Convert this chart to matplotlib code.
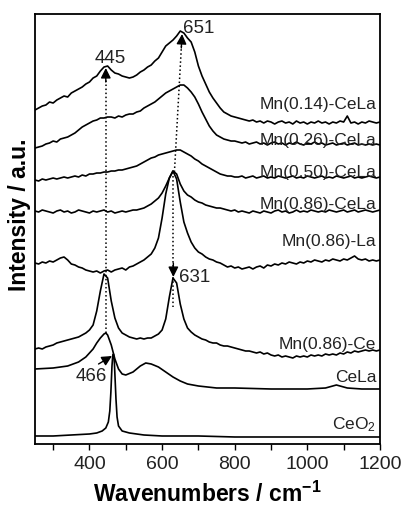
import numpy as np
import matplotlib
matplotlib.use("Agg")
import matplotlib.pyplot as plt
from matplotlib.ticker import MultipleLocator

plt.rcParams['font.family'] = ['Liberation Sans', 'DejaVu Sans']
plt.rcParams['mathtext.default'] = 'regular'

# --- data (intensity in arbitrary units, stacked) ---
wn = np.arange(250, 1201, 10)

mn014_cela = [334, 336, 338, 339, 342, 341, 344, 346, 348, 347, 351, 353, 355, 357, 360, 362,
              366, 368, 373, 377, 378, 374, 371, 370, 368, 367, 366, 367, 369, 372, 374, 377,
              379, 383, 386, 392, 398, 401, 404, 408, 413, 411, 406, 402, 392, 378, 368, 360,
              352, 346, 341, 336, 332, 330, 328, 327, 326, 325, 324, 323, 324, 322, 323, 321,
              323, 322, 320, 322, 323, 321, 322, 320, 323, 321, 322, 320, 322, 321, 323, 321,
              322, 320, 322, 321, 323, 322, 328, 321, 322, 320, 322, 321, 323, 322, 321, 322]
mn026_cela = [296, 297, 298, 300, 301, 303, 302, 305, 306, 307, 309, 311, 314, 317, 319, 321,
              323, 324, 326, 326, 327, 327, 326, 328, 327, 329, 330, 330, 332, 333, 336, 338,
              340, 342, 345, 348, 351, 353, 355, 357, 359, 359, 356, 352, 347, 340, 332, 325,
              318, 313, 309, 307, 305, 304, 303, 303, 302, 301, 302, 300, 301, 302, 300, 301,
              299, 301, 302, 300, 301, 299, 301, 300, 302, 300, 299, 301, 300, 302, 300, 301,
              299, 300, 301, 299, 300, 301, 299, 300, 301, 299, 300, 299, 300, 299, 300, 299]
mn050_cela = [264, 263, 265, 264, 265, 266, 265, 266, 267, 266, 267, 268, 267, 269, 268, 270,
              270, 271, 271, 272, 272, 273, 273, 274, 274, 275, 276, 277, 278, 280, 282, 284,
              286, 287, 289, 290, 291, 292, 293, 294, 294, 292, 290, 288, 285, 283, 280, 278,
              276, 274, 272, 270, 269, 268, 268, 267, 267, 268, 266, 267, 268, 266, 267, 268,
              266, 267, 266, 268, 267, 266, 267, 268, 266, 267, 266, 268, 267, 266, 267, 268,
              266, 267, 266, 268, 267, 266, 267, 268, 266, 267, 266, 267, 268, 267, 266, 267]
mn086_cela = [233, 232, 234, 233, 232, 231, 233, 234, 232, 233, 231, 232, 234, 233, 232, 231,
              233, 232, 233, 234, 232, 233, 231, 232, 233, 232, 233, 234, 234, 235, 236, 238,
              240, 243, 246, 251, 258, 266, 273, 270, 260, 253, 249, 247, 244, 242, 241, 239,
              238, 237, 236, 236, 235, 234, 233, 234, 232, 233, 232, 231, 233, 232, 231, 233,
              232, 231, 233, 234, 232, 233, 231, 232, 234, 232, 233, 232, 234, 233, 232, 233,
              232, 234, 233, 232, 233, 234, 232, 233, 234, 232, 233, 234, 233, 232, 233, 234]
mn086_la = [181, 180, 182, 181, 183, 182, 184, 186, 187, 184, 180, 179, 177, 176, 174, 173,
            172, 173, 171, 173, 174, 172, 174, 175, 176, 174, 177, 178, 180, 182, 184, 187,
            190, 196, 206, 226, 250, 266, 273, 265, 242, 222, 211, 202, 196, 192, 190, 187,
            185, 184, 182, 181, 179, 177, 178, 176, 177, 175, 176, 177, 175, 177, 178, 176,
            179, 178, 180, 179, 181, 180, 182, 181, 180, 182, 181, 183, 182, 184, 183, 182,
            184, 183, 185, 184, 183, 185, 184, 186, 188, 185, 184, 185, 183, 184, 183, 184]
mn086_ce = [95, 96, 95, 97, 98, 99, 101, 102, 103, 104, 105, 106, 107, 109, 111, 114,
            119, 133, 153, 170, 166, 143, 126, 116, 111, 109, 107, 106, 105, 106, 105, 106,
            106, 108, 110, 114, 125, 147, 166, 161, 140, 125, 116, 112, 109, 107, 105, 104,
            102, 101, 101, 99, 98, 98, 97, 96, 95, 94, 93, 93, 92, 91, 92, 90,
            91, 89, 88, 89, 87, 88, 87, 86, 88, 87, 88, 87, 89, 88, 89, 88,
            90, 89, 90, 89, 91, 90, 92, 91, 93, 92, 93, 94, 93, 94, 93, 94]

wn_cela = [250, 300, 340, 370, 390, 410, 420, 430, 440, 445, 450, 460, 470, 480, 490, 500,
           520, 540, 555, 570, 590, 610, 630, 650, 670, 700, 750, 800, 900, 1000, 1050, 1070,
           1080, 1090, 1110, 1150, 1200]
cela = [75, 76, 78, 82, 87, 95, 101, 106, 110, 111, 109, 99, 85, 75, 70, 69,
        72, 78, 81, 80, 77, 72, 67, 63, 60, 58, 56, 56, 55, 55, 56, 58,
        59, 58, 56, 55, 55]

wn_ceo2 = [250, 300, 350, 400, 420, 435, 445, 452, 456, 459, 462, 464, 466, 468, 470, 473,
           476, 480, 490, 510, 550, 600, 700, 800, 1000, 1200]
ceo2 = [8, 8, 9, 10, 11, 13, 16, 22, 33, 52, 78, 88, 90, 86, 70, 45,
        27, 18, 13, 11, 9, 8, 8, 7, 7, 7]

labels = ['Mn(0.14)-CeLa', 'Mn(0.26)-CeLa', 'Mn(0.50)-CeLa', 'Mn(0.86)-CeLa',
          'Mn(0.86)-La', 'Mn(0.86)-Ce', 'CeLa', 'CeO$_2$']
label_y = [340, 304, 272, 240, 203, 99, 66, 19]

# --- figure ---
fig = plt.figure(figsize=(4.05, 5.08), dpi=100)
ax = fig.add_axes([0.0864, 0.126, 0.8518, 0.8464])

for y in [mn014_cela, mn026_cela, mn050_cela, mn086_cela, mn086_la, mn086_ce]:
    ax.plot(wn, y, color='black', lw=1.2)
ax.plot(wn_cela, cela, color='black', lw=1.2)
ax.plot(wn_ceo2, ceo2, color='black', lw=1.2)

for lab, ly in zip(labels, label_y):
    ax.text(1190, ly, lab, ha='right', va='center', fontsize=12.5, color='#222222')

# dotted guide lines + arrow heads
head = dict(arrowstyle='-|>', color='black', lw=1.0, mutation_scale=15,
            shrinkA=0, shrinkB=0)
ax.plot([445, 445], [111, 366], color='black', ls=':', lw=1.1)
ax.annotate('', xy=(445, 376), xytext=(445, 362), arrowprops=head)
ax.plot([634, 653.2], [272, 398], color='black', ls=':', lw=1.1)
ax.annotate('', xy=(655, 410), xytext=(652.9, 396), arrowprops=head)
ax.plot([631, 631], [272, 137], color='black', ls=':', lw=1.1)
ax.annotate('', xy=(631, 167), xytext=(631, 181), arrowprops=head)
ax.annotate('', xy=(462, 88), xytext=(425, 80), arrowprops=head)

ax.text(458, 386, '445', ha='center', va='center', fontsize=13.5, color='#222222')
ax.text(701, 416, '651', ha='center', va='center', fontsize=13.5, color='#222222')
ax.text(690, 167, '631', ha='center', va='center', fontsize=13.5, color='#222222')
ax.text(405, 67, '466', ha='center', va='center', fontsize=13.5, color='#222222')

ax.set_xlim(250, 1200)
ax.set_ylim(0, 430)
ax.xaxis.set_major_locator(MultipleLocator(200))
ax.xaxis.set_minor_locator(MultipleLocator(100))
ax.set_yticks([])
ax.tick_params(axis='x', which='both', direction='out', length=4.3, width=1.0,
               labelsize=14, pad=4, labelcolor='#222222')
for spine in ax.spines.values():
    spine.set_linewidth(1.3)

fig.text(0.512, 0.012, 'Wavenumbers / cm$^{-1}$', ha='center', va='baseline',
         fontsize=16.5, fontweight='bold')
fig.text(0.049, 0.577, 'Intensity / a.u.', ha='center', va='center', rotation=90,
         fontsize=16.5, fontweight='bold')

fig.savefig('out.png', dpi=100)
